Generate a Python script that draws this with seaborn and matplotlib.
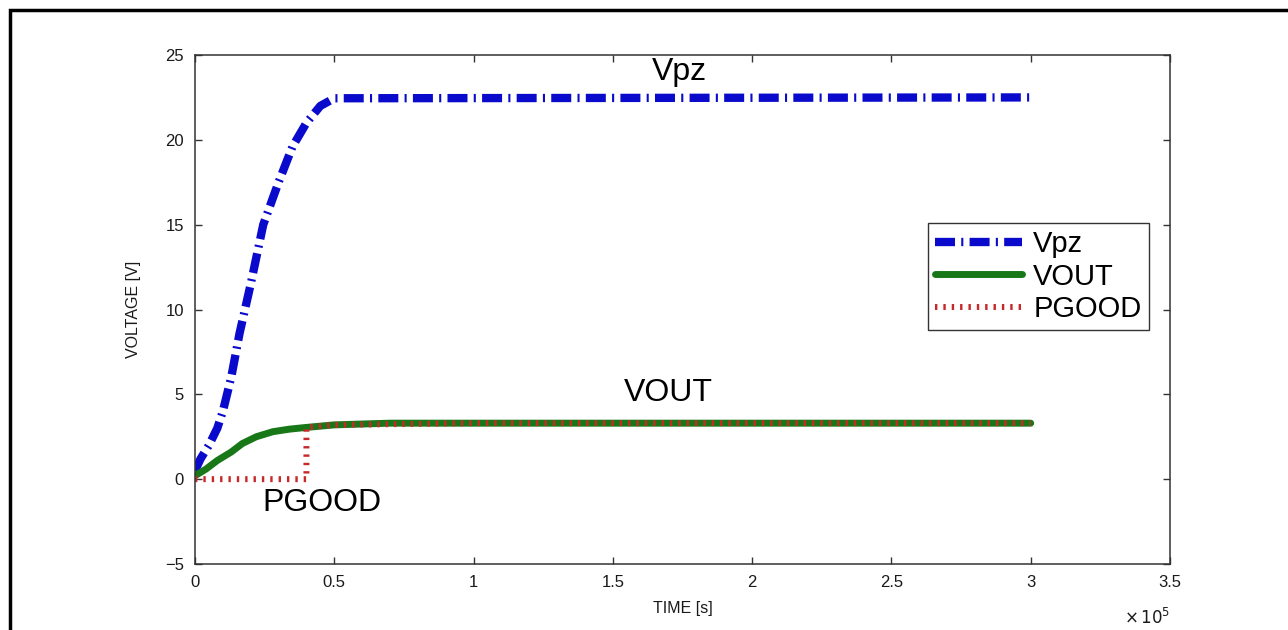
import pandas as pd
import seaborn as sns
import matplotlib.pyplot as plt
from matplotlib.patches import Rectangle
from matplotlib.ticker import FuncFormatter, MultipleLocator

# values (time in seconds, voltage in V)
vpz_t = [0, 2e3, 5e3, 8e3, 1.0e4, 1.3e4, 1.6e4, 2.0e4, 2.45e4, 3.0e4, 3.5e4, 4.0e4, 4.5e4, 5.0e4, 3.0e5]
vpz_v = [0.5, 1.2, 2.0, 3.0, 4.0, 6.0, 8.6, 11.5, 15.0, 17.5, 19.6, 21.0, 22.0, 22.45, 22.5]

vout_t = [0, 4e3, 8e3, 1.3e4, 1.7e4, 2.2e4, 2.8e4, 3.4e4, 4.0e4, 5.0e4, 7.0e4, 1.0e5, 3.0e5]
vout_v = [0.2, 0.6, 1.1, 1.6, 2.1, 2.5, 2.8, 2.95, 3.05, 3.2, 3.3, 3.3, 3.3]

pgood_t = [0, 4.0e4, 4.0e4, 5.0e4, 1.0e5, 3.0e5]
pgood_v = [0, 0, 3.05, 3.2, 3.3, 3.3]

sns.set_style("white")
plt.rcParams['font.family'] = ['Liberation Sans', 'DejaVu Sans']
plt.rcParams['text.color'] = 'black'

fig = plt.figure(figsize=(12.88, 6.30), dpi=100)
ax = fig.add_axes([195 / 1288, 1 - 564 / 630, 975 / 1288, 509 / 630])

sns.lineplot(x=vpz_t, y=vpz_v, ax=ax, color='#0a0acc', lw=6, estimator=None, sort=False,
             linestyle=(0, (2.4, 0.75, 0.25, 0.75)), label='Vpz')
sns.lineplot(x=vout_t, y=vout_v, ax=ax, color='#187818', lw=5, estimator=None, sort=False,
             label='VOUT')
sns.lineplot(x=pgood_t, y=pgood_v, ax=ax, color='#c8282a', lw=4.3, estimator=None, sort=False,
             linestyle=(0, (0.4, 1.0)), label='PGOOD')

ax.set_xlim(0, 3.5e5)
ax.set_ylim(-5, 25)
ax.xaxis.set_major_locator(MultipleLocator(0.5e5))
ax.yaxis.set_major_locator(MultipleLocator(5))
ax.xaxis.set_major_formatter(FuncFormatter(lambda v, _: f"{v / 1e5:g}"))
ax.tick_params(direction='in', top=True, right=True, left=True, bottom=True, length=5,
               width=1, labelsize=12, labelcolor='#1a1a1a', color='#333333', pad=8)
for s in ax.spines.values():
    s.set_color('#333333')
    s.set_linewidth(1.1)

ax.set_xlabel("TIME [s]", fontsize=11.5, color='#1a1a1a')
ax.set_ylabel("VOLTAGE [V]", fontsize=11.5, color='#1a1a1a')
ax.xaxis.set_label_coords(0.5, -0.073)
ax.yaxis.set_label_coords(-0.055, 0.5)
ax.text(1.0, -0.085, r"$\times\,10^{5}$", transform=ax.transAxes, ha='right', va='top',
        fontsize=12, color='#1a1a1a')

ax.text(1.74e5, 24.0, "Vpz", fontsize=23, ha='center', va='center')
ax.text(1.70e5, 5.07, "VOUT", fontsize=23, ha='center', va='center')
ax.text(0.457e5, -1.43, "PGOOD", fontsize=23, ha='center', va='center')

leg = ax.legend(loc='upper left', bbox_to_anchor=(0.752, 0.670), borderaxespad=0,
                fontsize=21, frameon=True, fancybox=False, handlelength=2.95,
                handletextpad=0.4, labelspacing=0.15, borderpad=0.25)
leg.get_frame().set_edgecolor('black')
leg.get_frame().set_linewidth(1)
for t in leg.get_texts():
    t.set_color('black')

# black frame around the whole figure (runs off the right and bottom edges)
fig.patches.append(Rectangle((10 / 1288, -0.5), 2, 0.5 + 1 - 10 / 630, fill=False,
                             edgecolor='black', lw=2.5, transform=fig.transFigure))

fig.savefig("out.png", dpi=100)
